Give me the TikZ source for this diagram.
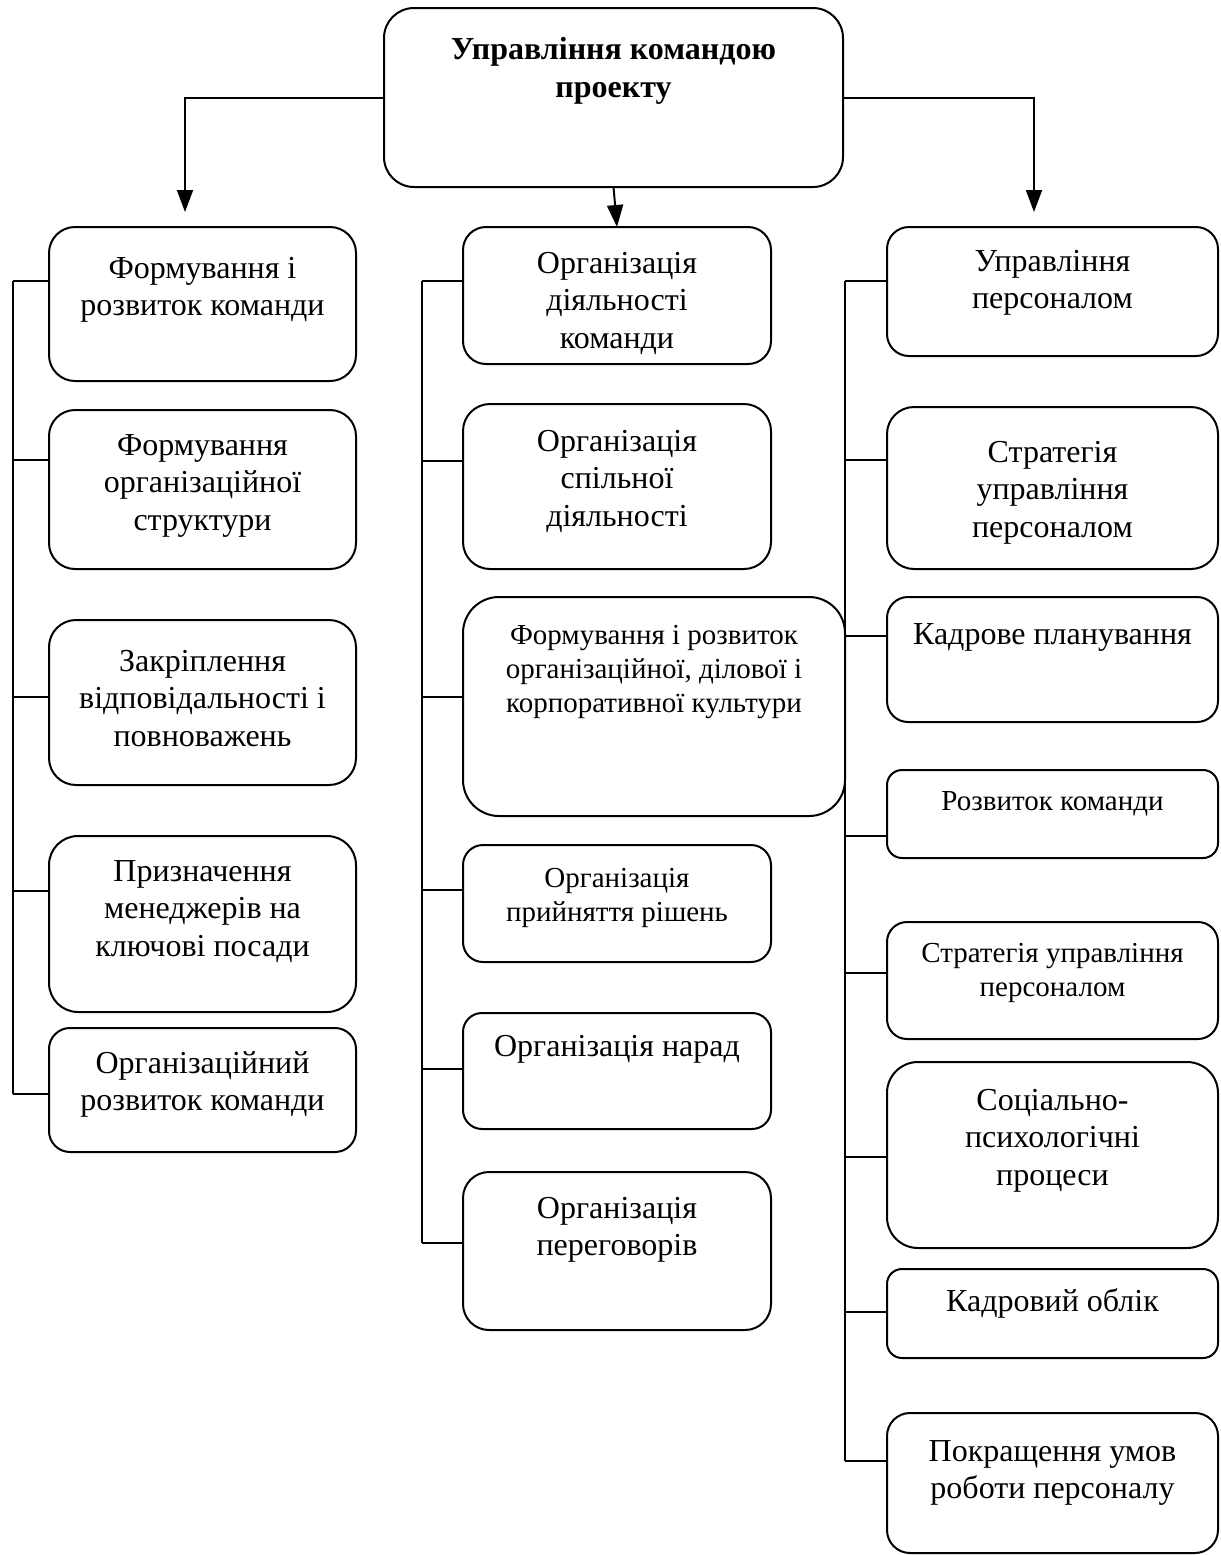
\documentclass[tikz,border=0pt]{standalone}
\usepackage{fontspec}
\setmainfont{Liberation Serif}
\usetikzlibrary{arrows.meta}

\newcommand\bigtx[1]{\parbox[t]{190pt}{\centering\fontsize{16pt}{18.75pt}\selectfont #1}}
\newcommand\smtx[1]{\parbox[t]{190pt}{\centering\fontsize{14.5pt}{17pt}\selectfont #1}}
\newcommand\titletx[1]{\parbox[t]{220pt}{\centering\bfseries\fontsize{16pt}{19pt}\selectfont #1}}
% name, x1, y1, x2, y2, corner radius (pt), first baseline (px), text
\newcommand\bx[8]{%
  \node[box, rounded corners=#6pt, minimum width={(#4-#2)*0.5pt}, minimum height={(#5-#3)*0.5pt}]
    (#1) at ({(#2+#4)/2},{(#3+#5)/2}) {};
  \node[anchor=base, inner sep=0pt] (#1t) at ({(#2+#4)/2},#7) {#8};
}

\begin{document}
\begin{tikzpicture}[x=0.5pt, y=-0.5pt, line width=0.85pt,
  box/.style={draw, line width=1pt, inner sep=0pt, outer sep=0pt},
  arr/.style={line width=1pt, -{Triangle[length=11pt,width=8pt]}}]
\useasboundingbox (0,0) rectangle (1221,1555);

% top
\bx{T}{384}{8}{843}{187}{15}{59}{\titletx{Управління командою\\проекту}}

% left column
\bx{L1}{49}{227}{356}{381}{13}{278}{\bigtx{Формування і\\розвиток команди}}
\bx{L2}{49}{410}{356}{569}{13}{455}{\bigtx{Формування\\організаційної\\структури}}
\bx{L3}{49}{620}{356}{785}{13.5}{671}{\bigtx{Закріплення\\відповідальності і\\повноважень}}
\bx{L4}{49}{836}{356}{1012}{14.5}{881}{\bigtx{Призначення\\менеджерів на\\ключові посади}}
\bx{L5}{49}{1028}{356}{1152}{10.5}{1073}{\bigtx{Організаційний\\розвиток команди}}

% middle column
\bx{M1}{463}{227}{771}{364}{11.5}{273}{\bigtx{Організація\\діяльності\\команди}}
\bx{M2}{463}{404}{771}{569}{13.5}{451}{\bigtx{Організація\\спільної\\діяльності}}
\bx{M3}{463}{597}{845}{816}{18}{644}{\smtx{Формування і розвиток\\організаційної, ділової і\\корпоративної культури}}
\bx{M4}{463}{845}{771}{962}{10}{887}{\smtx{Організація\\прийняття рішень}}
\bx{M5}{463}{1013}{771}{1129}{9.5}{1056}{\bigtx{Організація нарад}}
\bx{M6}{463}{1172}{771}{1330}{13}{1218}{\bigtx{Організація\\переговорів}}

% right column
\bx{R1}{887}{227}{1218}{356}{11}{271}{\bigtx{Управління\\персоналом}}
\bx{R2}{887}{407}{1218}{569}{13.5}{462}{\bigtx{Стратегія\\управління\\персоналом}}
\bx{R3}{887}{597}{1218}{722}{10.5}{644}{\bigtx{Кадрове планування}}
\bx{R4}{887}{770}{1218}{858}{7.5}{810}{\smtx{Розвиток команди}}
\bx{R5}{887}{922}{1218}{1039}{10}{962}{\smtx{Стратегія управління\\персоналом}}
\bx{R6}{887}{1062}{1218}{1248}{15.5}{1110}{\bigtx{Соціально-\\психологічні\\процеси}}
\bx{R7}{887}{1269}{1218}{1358}{7.5}{1311}{\bigtx{Кадровий облік}}
\bx{R8}{887}{1413}{1218}{1553}{11.5}{1461}{\bigtx{Покращення умов\\роботи персоналу}}

% arrows from the top box
\coordinate (aL) at (185,212);
\coordinate (aR) at (1034,212);
\draw[arr] (T.west) -| (aL);
\draw[arr] (T.east) -| (aR);
\draw[arr] (T.south) -- (M1.north);

% left trunk
\foreach \n/\y in {L1/281, L2/460, L3/697, L4/891, L5/1094}{
  \coordinate (j\n) at (13,\y);
  \draw (j\n) -- (j\n -| \n.west);
}
\draw (jL1) -- (jL5);

% middle trunk
\foreach \n/\y in {M1/281, M2/461, M3/697, M4/890, M5/1069, M6/1243}{
  \coordinate (j\n) at (422,\y);
  \draw (j\n) -- (j\n -| \n.west);
}
\draw (jM1) -- (jM6);

% right trunk
\foreach \n/\y in {R1/281, R2/460, R3/636, R4/836, R5/973, R6/1157, R7/1312, R8/1461}{
  \coordinate (j\n) at (845,\y);
  \draw (j\n) -- (j\n -| \n.west);
}
\draw (jR1) -- (jR8);
\end{tikzpicture}
\end{document}
